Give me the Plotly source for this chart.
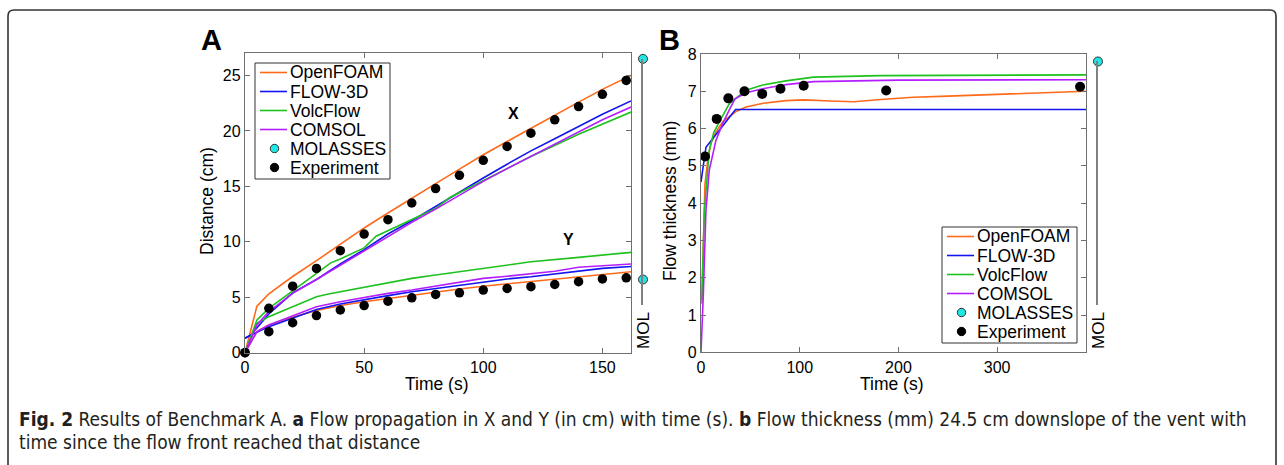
import plotly.graph_objects as go

W, H = 1284, 465

# ---------------- Panel A data (time s, distance cm) ----------------
T_EXP_A = [0, 10, 20, 30, 40, 50, 60, 70, 80, 90, 100, 110, 120, 130, 140, 150, 160]
EXP_X = [0, 4.0, 6.0, 7.6, 9.2, 10.7, 12.0, 13.5, 14.8, 16.0, 17.35, 18.6, 19.8, 21.0, 22.2, 23.3, 24.55]
EXP_Y = [0, 1.9, 2.7, 3.35, 3.85, 4.25, 4.65, 4.95, 5.25, 5.4, 5.65, 5.8, 5.95, 6.15, 6.4, 6.65, 6.75]

OF_T = [0, 5, 10, 20, 30, 40, 50, 60, 70, 80, 90, 100, 110, 120, 130, 140, 150, 162]
OF_X = [0, 4.2, 5.3, 6.87, 8.3, 9.8, 11.25, 12.6, 13.95, 15.25, 16.55, 17.85, 19.05, 20.25, 21.4, 22.6, 23.75, 25.0]
OF_Y = [0, 1.9, 2.5, 3.2, 3.8, 4.25, 4.6, 4.9, 5.2, 5.5, 5.75, 6.0, 6.2, 6.45, 6.65, 6.85, 7.05, 7.3]

F3D_T = [0, 2.5, 10, 20, 30, 40, 50, 60, 70, 80, 90, 100, 110, 120, 130, 140, 150, 162]
F3D_X = [1.3, 1.6, 3.5, 5.4, 6.6, 8.0, 9.3, 10.7, 11.9, 13.2, 14.5, 15.75, 17.0, 18.2, 19.3, 20.4, 21.5, 22.7]
F3D_Y = [1.3, 1.6, 2.35, 3.15, 3.9, 4.4, 4.8, 5.15, 5.5, 5.8, 6.1, 6.4, 6.65, 6.85, 7.1, 7.4, 7.6, 7.77]

VF_TX = [0, 5, 10, 17, 23, 26, 30, 36, 40, 50, 55, 60, 70, 80, 86, 100, 120, 140, 162]
VF_X = [0, 2.95, 4.0, 5.1, 6.1, 6.5, 7.2, 8.1, 8.45, 9.45, 10.5, 11.0, 12.05, 13.0, 14.0, 15.5, 17.7, 19.7, 21.7]
VF_TY = [0, 5, 10, 15, 20, 25, 30, 35, 40, 50, 60, 70, 80, 90, 100, 110, 120, 140, 162]
VF_Y = [0, 2.65, 3.25, 3.7, 4.15, 4.6, 5.05, 5.3, 5.5, 5.95, 6.35, 6.7, 7.0, 7.3, 7.62, 7.9, 8.2, 8.6, 9.05]

CS_T = [0, 5, 10, 20, 30, 40, 50, 60, 70, 80, 90, 100, 110, 120, 130, 140, 150, 162]
CS_X = [0, 2.5, 3.7, 5.35, 6.6, 7.9, 9.2, 10.5, 11.75, 12.95, 14.2, 15.45, 16.6, 17.7, 18.85, 19.95, 21.0, 22.15]
CS_Y = [0, 1.9, 2.5, 3.3, 4.15, 4.6, 5.0, 5.35, 5.65, 6.0, 6.35, 6.7, 6.9, 7.1, 7.35, 7.7, 7.85, 8.0]

MOL_A = [26.5, 6.6]      # MOLASSES X and Y runout (cm)

# ---------------- Panel B data (time s, thickness mm) ----------------
EXPB_T = [4.1, 15.9, 27.7, 44, 62, 80.5, 104, 187.6, 384]
EXPB_V = [5.25, 6.26, 6.81, 7.0, 6.93, 7.07, 7.15, 7.02, 7.12]

OFB_T = [0.8, 2.3, 4, 6.8, 10, 15.2, 22, 28.7, 35, 45.6, 63, 86, 104, 131, 155, 182, 215, 250, 317, 390]
OFB_V = [1.3, 3.2, 4.5, 5.16, 5.6, 5.91, 6.18, 6.32, 6.45, 6.58, 6.68, 6.75, 6.77, 6.74, 6.72, 6.78, 6.84, 6.87, 6.93, 7.0]

F3DB_T = [0, 5, 35, 390]
F3DB_V = [4.57, 5.5, 6.51, 6.51]

VFB_T = [0.8, 3.4, 8.4, 13, 18.6, 28.7, 45.6, 62.5, 86, 114, 181.5, 390]
VFB_V = [1.4, 3.8, 5.42, 5.9, 6.18, 6.67, 7.03, 7.17, 7.28, 7.38, 7.42, 7.44]

CSB_T = [0, 2.4, 5, 8.4, 15.2, 22, 28.7, 34.5, 45.6, 62.5, 86, 114, 200, 390]
CSB_V = [0, 1.58, 3.8, 4.89, 5.69, 6.14, 6.5, 6.8, 6.96, 7.07, 7.18, 7.26, 7.3, 7.31]

MOL_B = [7.8]

# ---------------- styling ----------------
C_OF = "#FF6A1A"
C_F3D = "#1414F0"
C_VF = "#1EC21E"
C_CS = "#B41EFF"
C_MOL = "#22E6E6"
AXC = "#707070"
FONT = "Liberation Sans, Arial, sans-serif"
LW = 1.6

names = ["OpenFOAM", "FLOW-3D", "VolcFlow", "COMSOL", "MOLASSES", "Experiment"]


def fx(px):
    return px / W


def fy(py):
    return 1 - py / H


# plot boxes in pixels: left, right, top, bottom
A_box = (245, 631, 53.3, 352.7)
B_box = (701, 1086, 54.0, 352.3)
A_yr = [0, 27]
B_yr = [0, 8]

fig = go.Figure()


def line(x, y, c, name, xa, ya):
    fig.add_trace(go.Scatter(x=x, y=y, mode="lines", line=dict(color=c, width=LW),
                             name=name, showlegend=False, xaxis=xa, yaxis=ya))


def dots(x, y, name, xa, ya, size=9.5):
    fig.add_trace(go.Scatter(x=x, y=y, mode="markers", name=name, showlegend=False,
                             marker=dict(color="black", size=size, line=dict(width=0)),
                             xaxis=xa, yaxis=ya, cliponaxis=False))


# Panel A
line(OF_T, OF_X, C_OF, "OpenFOAM", "x", "y")
line(OF_T, OF_Y, C_OF, "OpenFOAM", "x", "y")
line(F3D_T, F3D_X, C_F3D, "FLOW-3D", "x", "y")
line(F3D_T, F3D_Y, C_F3D, "FLOW-3D", "x", "y")
line(VF_TX, VF_X, C_VF, "VolcFlow", "x", "y")
line(VF_TY, VF_Y, C_VF, "VolcFlow", "x", "y")
line(CS_T, CS_X, C_CS, "COMSOL", "x", "y")
line(CS_T, CS_Y, C_CS, "COMSOL", "x", "y")
dots(T_EXP_A, EXP_X, "Experiment", "x", "y")
dots(T_EXP_A, EXP_Y, "Experiment", "x", "y")

# Panel B
line(OFB_T, OFB_V, C_OF, "OpenFOAM", "x2", "y2")
line(F3DB_T, F3DB_V, C_F3D, "FLOW-3D", "x2", "y2")
line(VFB_T, VFB_V, C_VF, "VolcFlow", "x2", "y2")
line(CSB_T, CSB_V, C_CS, "COMSOL", "x2", "y2")
dots(EXPB_T, EXPB_V, "Experiment", "x2", "y2", size=10)

# MOLASSES side axes
fig.add_trace(go.Scatter(x=[0] * len(MOL_A), y=MOL_A, mode="markers", name="MOLASSES",
                         showlegend=False, cliponaxis=False,
                         marker=dict(color=C_MOL, size=9, line=dict(color="#333", width=1)),
                         xaxis="x3", yaxis="y3"))
fig.add_trace(go.Scatter(x=[0] * len(MOL_B), y=MOL_B, mode="markers", name="MOLASSES",
                         showlegend=False, cliponaxis=False,
                         marker=dict(color=C_MOL, size=9, line=dict(color="#333", width=1)),
                         xaxis="x4", yaxis="y4"))


def val2py(v, box, yr):
    l, r, t, b = box
    return b - (v - yr[0]) / (yr[1] - yr[0]) * (b - t)


def py2val(py, box, yr):
    l, r, t, b = box
    return yr[0] + (b - py) / (b - t) * (yr[1] - yr[0])


mol_bottom_py = 305
axis_common = dict(showline=True, linecolor=AXC, linewidth=1.3, mirror="ticks",
                   ticks="inside", ticklen=5, tickwidth=1.1, tickcolor=AXC,
                   showgrid=False, zeroline=False,
                   tickfont=dict(family=FONT, size=16, color="black"))

layout = dict(
    autosize=True, margin=dict(l=0, r=0, t=0, b=0, autoexpand=False),
    paper_bgcolor="white", plot_bgcolor="white", showlegend=False,
    xaxis=dict(domain=[fx(A_box[0]), fx(A_box[1])], range=[0, 162],
               tickvals=[0, 50, 100, 150], anchor="y", **axis_common),
    yaxis=dict(domain=[fy(A_box[3]), fy(A_box[2])], range=A_yr,
               tickvals=[0, 5, 10, 15, 20, 25], anchor="x", **axis_common),
    xaxis2=dict(domain=[fx(B_box[0]), fx(B_box[1])], range=[0, 390],
                tickvals=[0, 100, 200, 300], anchor="y2", **axis_common),
    yaxis2=dict(domain=[fy(B_box[3]), fy(B_box[2])], range=B_yr,
                tickvals=list(range(0, 9)), anchor="x2", **axis_common),
    xaxis3=dict(domain=[fx(643), fx(650)], range=[0, 1], visible=False, anchor="y3"),
    yaxis3=dict(domain=[fy(mol_bottom_py), fy(val2py(max(MOL_A), A_box, A_yr))],
                range=[py2val(mol_bottom_py, A_box, A_yr), max(MOL_A)],
                anchor="x3", showline=True, linecolor="#808080", linewidth=1.5,
                showticklabels=False, ticks="", showgrid=False, zeroline=False),
    xaxis4=dict(domain=[fx(1098), fx(1105)], range=[0, 1], visible=False, anchor="y4"),
    yaxis4=dict(domain=[fy(mol_bottom_py), fy(val2py(max(MOL_B), B_box, B_yr))],
                range=[py2val(mol_bottom_py, B_box, B_yr), max(MOL_B)],
                anchor="x4", showline=True, linecolor="#808080", linewidth=1.5,
                showticklabels=False, ticks="", showgrid=False, zeroline=False),
)
fig.update_layout(**layout)

ann = []
shapes = []


def text(x, y, s, size=17, bold=False, angle=0, xanchor="center", yanchor="middle",
         color="black", family=FONT):
    ann.append(dict(x=fx(x), y=fy(y), xref="paper", yref="paper", showarrow=False,
                    text=f"<b>{s}</b>" if bold else s, textangle=angle,
                    xanchor=xanchor, yanchor=yanchor,
                    font=dict(family=family, size=size, color=color)))


# panel letters
text(211, 40, "A", size=29, bold=True)
text(669, 40, "B", size=29, bold=True)
# axis titles
text(207, 201, "Distance (cm)", size=17.5, angle=-90)
text(670, 201, "Flow thickness (mm)", size=17.5, angle=-90)
text(437, 384, "Time (s)", size=17.5)
text(892, 384, "Time (s)", size=17.5)
# MOL labels
text(643, 331, "MOL", size=17, angle=-90)
text(1098, 331, "MOL", size=17, angle=-90)

# series labels X and Y in panel A (data coords)
ann.append(dict(x=112.6, y=21.6, xref="x", yref="y", showarrow=False, text="<b>X</b>",
                font=dict(family=FONT, size=16, color="black")))
ann.append(dict(x=135.7, y=10.2, xref="x", yref="y", showarrow=False, text="<b>Y</b>",
                font=dict(family=FONT, size=16, color="black")))


# legends (drawn as key boxes)
def legend(left, top):
    w, h = 135, 116
    shapes.append(dict(type="rect", xref="paper", yref="paper",
                       x0=fx(left), x1=fx(left + w), y0=fy(top + h), y1=fy(top),
                       line=dict(color="#333", width=1), fillcolor="white", layer="above"))
    cols = [C_OF, C_F3D, C_VF, C_CS]
    for i, nm in enumerate(names):
        cy = top + 9.5 + 19 * i
        if i < 4:
            shapes.append(dict(type="line", xref="paper", yref="paper",
                               x0=fx(left + 5), x1=fx(left + 32), y0=fy(cy), y1=fy(cy),
                               line=dict(color=cols[i], width=LW), layer="above"))
        else:
            fc = C_MOL if nm == "MOLASSES" else "black"
            lc = "#333" if nm == "MOLASSES" else "black"
            r = 4.2
            shapes.append(dict(type="circle", xref="paper", yref="paper",
                               x0=fx(left + 19.5 - r), x1=fx(left + 19.5 + r),
                               y0=fy(cy + r), y1=fy(cy - r),
                               fillcolor=fc, line=dict(color=lc, width=1), layer="above"))
        text(left + 33, cy, nm, size=17.5, xanchor="left")


legend(255, 63)
legend(942, 227)

# caption
cap1 = ("<b>Fig. 2</b> Results of Benchmark A. <b>a</b> Flow propagation in X and Y (in cm) "
        "with time (s). <b>b</b> Flow thickness (mm) 24.5 cm downslope of the vent with")
cap2 = "time since the flow front reached that distance"
CAPFONT = "Liberation Sans Narrow, DejaVu Sans Condensed, Roboto Condensed, Liberation Sans"
text(17, 419, cap1, size=19, xanchor="left", color="#231f20", family=CAPFONT)
text(17, 442, cap2, size=19, xanchor="left", color="#231f20", family=CAPFONT)

# card border (rounded top corners)
x0, x1, yt = fx(8), fx(1276), fy(10)
rx, ry = 6 / W, 6 / H
path = (f"M {x0},-0.05 L {x0},{yt - ry} Q {x0},{yt} {x0 + rx},{yt} "
        f"L {x1 - rx},{yt} Q {x1},{yt} {x1},{yt - ry} L {x1},-0.05")
shapes.append(dict(type="path", xref="paper", yref="paper", path=path,
                   line=dict(color="#333", width=1.6)))

fig.update_layout(annotations=ann, shapes=shapes)
fig.write_html(
    "out.html",
    config={"displayModeBar": False, "responsive": True},
    default_width="100vw", default_height="100vh",
    post_script=("document.documentElement.style.margin='0px';"
                 "document.body.style.margin='0px';"
                 "document.body.style.overflow='hidden';"
                 "document.documentElement.style.overflow='hidden';"),
)
